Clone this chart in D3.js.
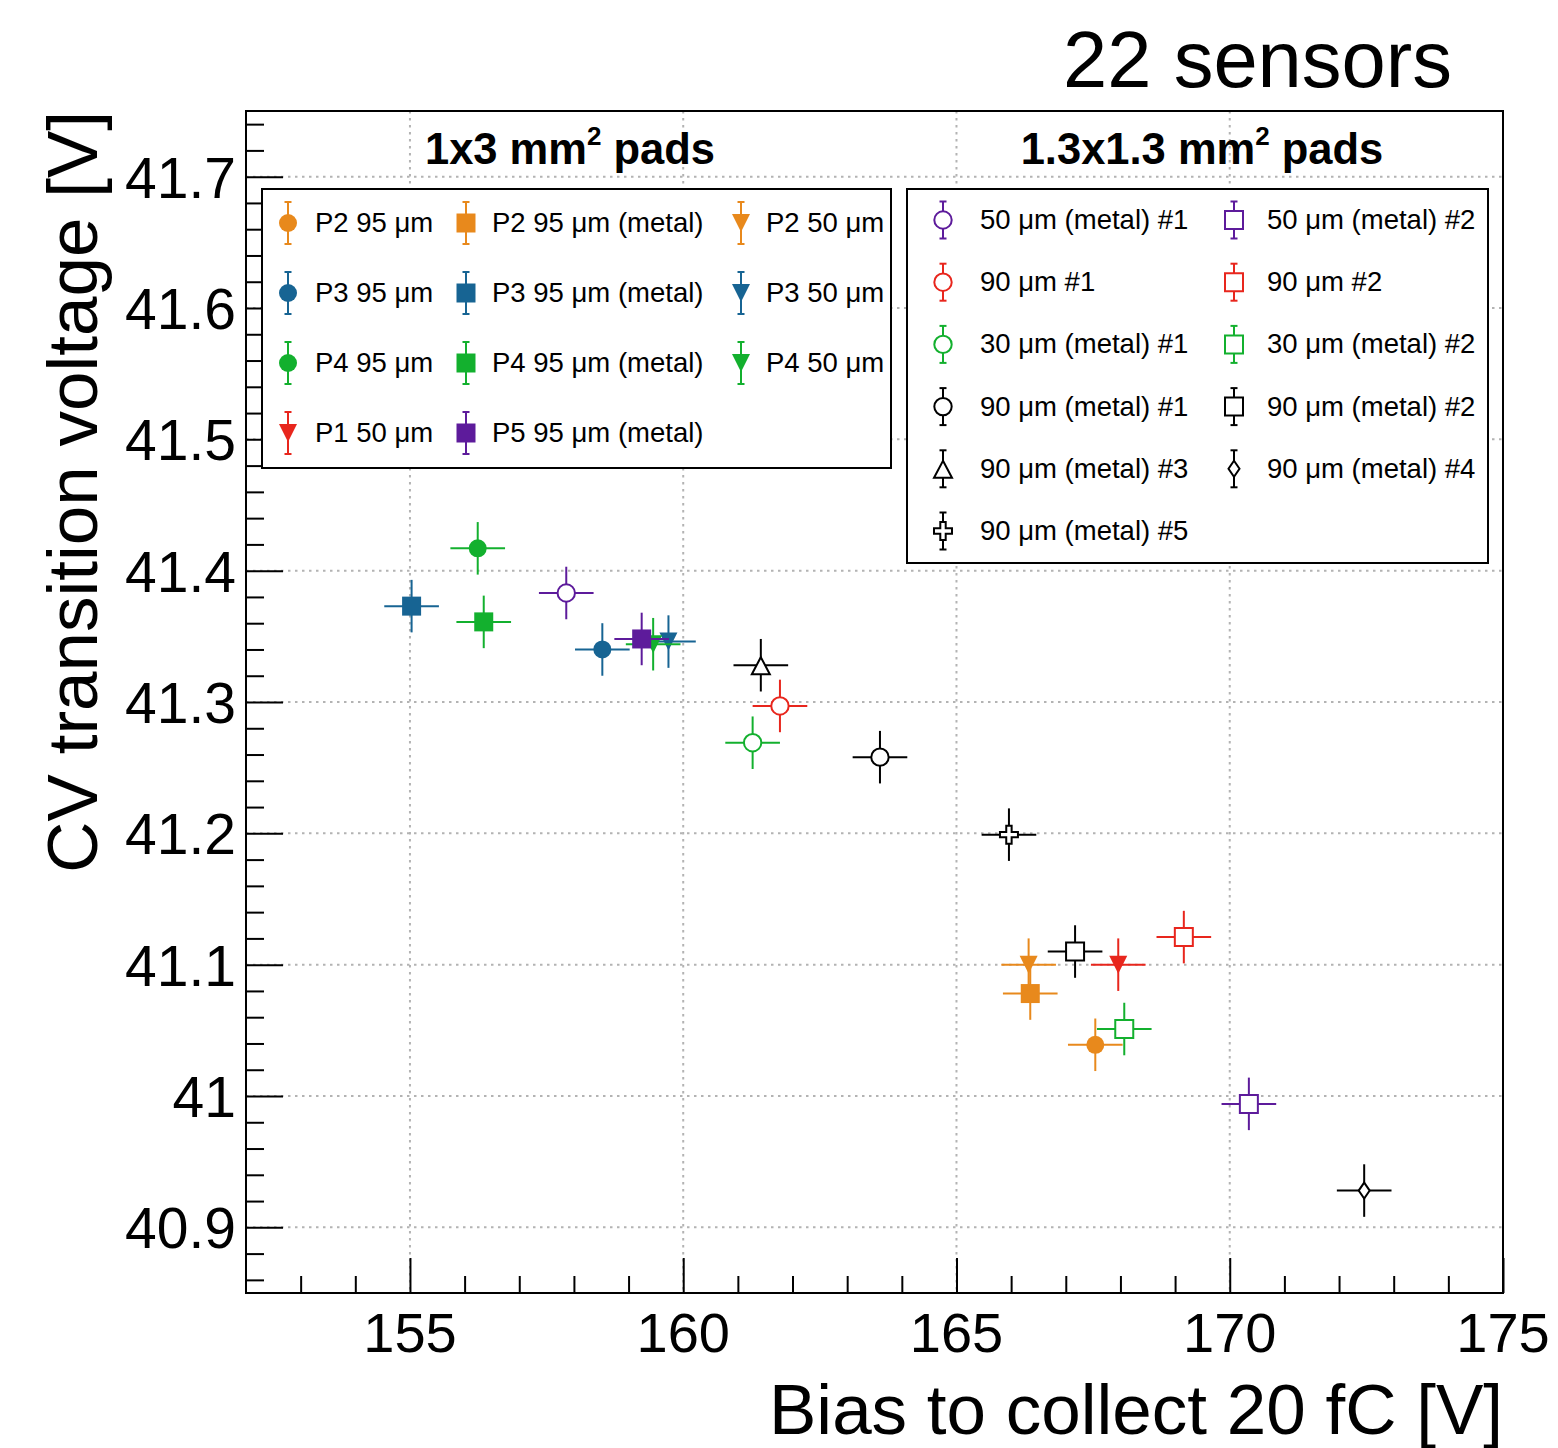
<!DOCTYPE html>
<html><head><meta charset="utf-8">
<script src="https://cdn.jsdelivr.net/npm/d3@7"></script>
<style>body{margin:0;background:#fff} svg{display:block} text{font-family:"Liberation Sans",Arial,Helvetica,sans-serif}</style>
</head><body><svg id="c" width="1558" height="1448"></svg>
<script>
// ---------------- data ----------------
const seriesNames = [
  "P2 95 μm","P2 95 μm (metal)","P2 50 μm",
  "P3 95 μm","P3 95 μm (metal)","P3 50 μm",
  "P4 95 μm","P4 95 μm (metal)","P4 50 μm",
  "P1 50 μm","P5 95 μm (metal)",
  "50 μm (metal) #1","50 μm (metal) #2",
  "90 μm #1","90 μm #2",
  "30 μm (metal) #1","30 μm (metal) #2",
  "90 μm (metal) #1","90 μm (metal) #2",
  "90 μm (metal) #3","90 μm (metal) #4",
  "90 μm (metal) #5"];
const biasV = [167.54,166.35,166.32, 158.52,155.03,159.73, 156.24,156.35,159.45, 167.96,159.24,
               157.86,170.35, 161.77,169.16, 161.27,168.07, 163.60,167.17, 161.42,172.46, 165.96];
const cvV   = [41.039,41.078,41.100, 41.340,41.373,41.346, 41.417,41.361,41.344, 41.100,41.348,
               41.383,40.994, 41.297,41.121, 41.269,41.051, 41.258,41.110, 41.328,40.928, 41.199];
const biasErr = [0.5,0.5,0.5, 0.5,0.5,0.5, 0.5,0.5,0.5, 0.5,0.5,
                 0.5,0.5, 0.5,0.5, 0.5,0.5, 0.5,0.5, 0.5,0.5, 0.5];
const cvErr = [0.02,0.02,0.02, 0.02,0.02,0.02, 0.02,0.02,0.02, 0.02,0.02,
               0.02,0.02, 0.02,0.02, 0.02,0.02, 0.02,0.02, 0.02,0.02, 0.02];
const seriesGroup = [0,0,0,0,0,0,0,0,0,0,0, 1,1,1,1,1,1,1,1,1,1,1];
// styles (kept separate from the values)
const ORANGE="#e8891c", BLUE="#176493", GREEN="#13b02e", RED="#e8261d", PURPLE="#5d1b9b", BLACK="#000000";
const seriesColor = [ORANGE,ORANGE,ORANGE, BLUE,BLUE,BLUE, GREEN,GREEN,GREEN, RED,PURPLE,
                     PURPLE,PURPLE, RED,RED, GREEN,GREEN, BLACK,BLACK, BLACK,BLACK, BLACK];
const seriesMarker = ["circle","square","tridown","circle","square","tridown","circle","square","tridown","tridown","square",
                      "ocircle","osquare","ocircle","osquare","ocircle","osquare","ocircle","osquare","otriup","odiamond","ocross"];
const xTickValues = [155,160,165,170,175];
const yTickValues = [40.9,41.0,41.1,41.2,41.3,41.4,41.5,41.6,41.7];
const yTickLabels = ["40.9","41","41.1","41.2","41.3","41.4","41.5","41.6","41.7"];
const groupTitles = ["1x3 mm","1.3x1.3 mm"];
const titleText = "22 sensors";
const xTitle = "Bias to collect 20 fC [V]";
const yTitle = "CV transition voltage [V]";

// ---------------- layout ----------------
const svg = d3.select("#c");
const L=246, R=1503, T=111, B=1293;
const x = d3.scaleLinear().domain([152,175]).range([L,R]);
const y = d3.scaleLinear().domain([40.85,41.75]).range([B,T]);

// grid
const grid = svg.append("g").attr("stroke","#b3b3b3").attr("stroke-width",2).attr("stroke-dasharray","2.5,4.5");
xTickValues.filter(v=>v<175).forEach(v=>grid.append("line").attr("x1",x(v)).attr("x2",x(v)).attr("y1",T).attr("y2",B));
yTickValues.forEach(v=>grid.append("line").attr("x1",L).attr("x2",R).attr("y1",y(v)).attr("y2",y(v)));

// axes with D3 axis generators (ticks inside)
const xMinor = d3.range(153,175,1).filter(v=>!xTickValues.includes(v));
const yMinorAll = d3.range(0,46).map(i=>+(40.86+i*0.02).toFixed(2)).filter(v=>v<=41.75 && !yTickValues.some(t=>Math.abs(t-v)<1e-6));

const gx = svg.append("g").attr("transform",`translate(0,${B})`);
gx.call(d3.axisTop(x).tickValues(xTickValues).tickSize(35).tickFormat(""));
gx.append("g").call(d3.axisTop(x).tickValues(xMinor).tickSize(17).tickFormat(""));
gx.selectAll("path.domain").remove();
gx.selectAll("line").attr("stroke","#000").attr("stroke-width",2);

const gy = svg.append("g").attr("transform",`translate(${L},0)`);
gy.call(d3.axisRight(y).tickValues(yTickValues).tickSize(37).tickFormat(""));
gy.append("g").call(d3.axisRight(y).tickValues(yMinorAll).tickSize(18).tickFormat(""));
gy.selectAll("path.domain").remove();
gy.selectAll("line").attr("stroke","#000").attr("stroke-width",2);

// tick labels
svg.append("g").selectAll("text").data(xTickValues).join("text")
  .attr("x",d=>x(d)).attr("y",1352).attr("text-anchor","middle")
  .attr("font-size",56).text(d=>d);
svg.append("g").selectAll("text").data(yTickValues).join("text")
  .attr("x",236).attr("y",d=>y(d)+21).attr("text-anchor","end")
  .attr("font-size",57).text((d,i)=>yTickLabels[i]);

// frame
svg.append("rect").attr("x",L).attr("y",T).attr("width",R-L).attr("height",B-T)
  .attr("fill","none").attr("stroke","#000").attr("stroke-width",2);

// titles
svg.append("text").attr("x",R).attr("y",1434).attr("text-anchor","end").attr("font-size",71).text(xTitle);
svg.append("text").attr("transform",`translate(97,${T}) rotate(-90)`).attr("text-anchor","end").attr("font-size",71).text(yTitle);
svg.append("text").attr("x",1452).attr("y",87).attr("text-anchor","end").attr("font-size",79.5).text(titleText);

// group headers
[[570,0],[1202,1]].forEach(([cx,g])=>{
  const t = svg.append("text").attr("x",cx).attr("y",164).attr("text-anchor","middle")
    .attr("font-size",43.5).attr("font-weight","bold");
  t.append("tspan").text(groupTitles[g]);
  t.append("tspan").attr("font-size",26).attr("dy",-19).text("2");
  t.append("tspan").attr("dy",19).text(" pads");
});

// ---------------- markers ----------------
function markerPath(type){
  switch(type){
    case "circle": return d3.symbol().type(d3.symbolCircle).size(Math.PI*81)();
    case "ocircle": return d3.symbol().type(d3.symbolCircle).size(Math.PI*8.7*8.7)();
    case "square": return "M-9.5,-9.5H9.5V9.5H-9.5Z";
    case "osquare": return "M-9,-9H9V9H-9Z";
    case "tridown": return "M-9,-9L9,-9L0,9Z";
    case "otriup": return "M0,-8L9,9L-9,9Z";
    case "odiamond": return "M0,-8L5.5,0L0,8L-5.5,0Z";
    case "ocross": return "M-2.7,-9H2.7V-2.7H9V2.7H2.7V9H-2.7V2.7H-9V-2.7H-2.7Z";
  }
}
function drawMarker(g, i){
  const open = seriesMarker[i].startsWith("o");
  g.append("path").attr("d",markerPath(seriesMarker[i]))
    .attr("fill", open ? "#fff" : seriesColor[i])
    .attr("stroke", open ? seriesColor[i] : "none")
    .attr("stroke-width", 2);
}

const pts = svg.append("g");
seriesNames.forEach((name,i)=>{
  const g = pts.append("g");
  const cx=x(biasV[i]), cy=y(cvV[i]);
  g.append("line").attr("x1",x(biasV[i]-biasErr[i])).attr("x2",x(biasV[i]+biasErr[i]))
    .attr("y1",cy).attr("y2",cy).attr("stroke",seriesColor[i]).attr("stroke-width",2);
  g.append("line").attr("x1",cx).attr("x2",cx)
    .attr("y1",y(cvV[i]-cvErr[i])).attr("y2",y(cvV[i]+cvErr[i])).attr("stroke",seriesColor[i]).attr("stroke-width",2);
  const m = g.append("g").attr("transform",`translate(${cx},${cy})`);
  drawMarker(m,i);
});

// ---------------- legends ----------------
const legends = [
  {box:[262,189,891,468], cols:3, mx:[288,466,741], tx:[315,492,766], y0:223, dy:70, err:21},
  {box:[907,189,1488,563], cols:2, mx:[943,1234], tx:[980,1267], y0:220, dy:62.2, err:18.5}
];
legends.forEach((lg,g)=>{
  const [x0,y0,x1,y1]=lg.box;
  svg.append("rect").attr("x",x0).attr("y",y0).attr("width",x1-x0).attr("height",y1-y0)
    .attr("fill","#fff").attr("stroke","#000").attr("stroke-width",2);
  const idx = seriesNames.map((n,i)=>i).filter(i=>seriesGroup[i]===g);
  idx.forEach((i,k)=>{
    const c = k % lg.cols, r = Math.floor(k/lg.cols);
    const mx = lg.mx[c], my = lg.y0 + r*lg.dy;
    const e = svg.append("g").attr("stroke",seriesColor[i]).attr("stroke-width",2);
    e.append("line").attr("x1",mx).attr("x2",mx).attr("y1",my-lg.err).attr("y2",my+lg.err);
    e.append("line").attr("x1",mx-3.5).attr("x2",mx+3.5).attr("y1",my-lg.err).attr("y2",my-lg.err);
    e.append("line").attr("x1",mx-3.5).attr("x2",mx+3.5).attr("y1",my+lg.err).attr("y2",my+lg.err);
    const m = svg.append("g").attr("transform",`translate(${mx},${my})`);
    drawMarker(m,i);
    svg.append("text").attr("x",lg.tx[c]).attr("y",my+9).attr("font-size",27.5).text(seriesNames[i]);
  });
});
</script></body></html>
